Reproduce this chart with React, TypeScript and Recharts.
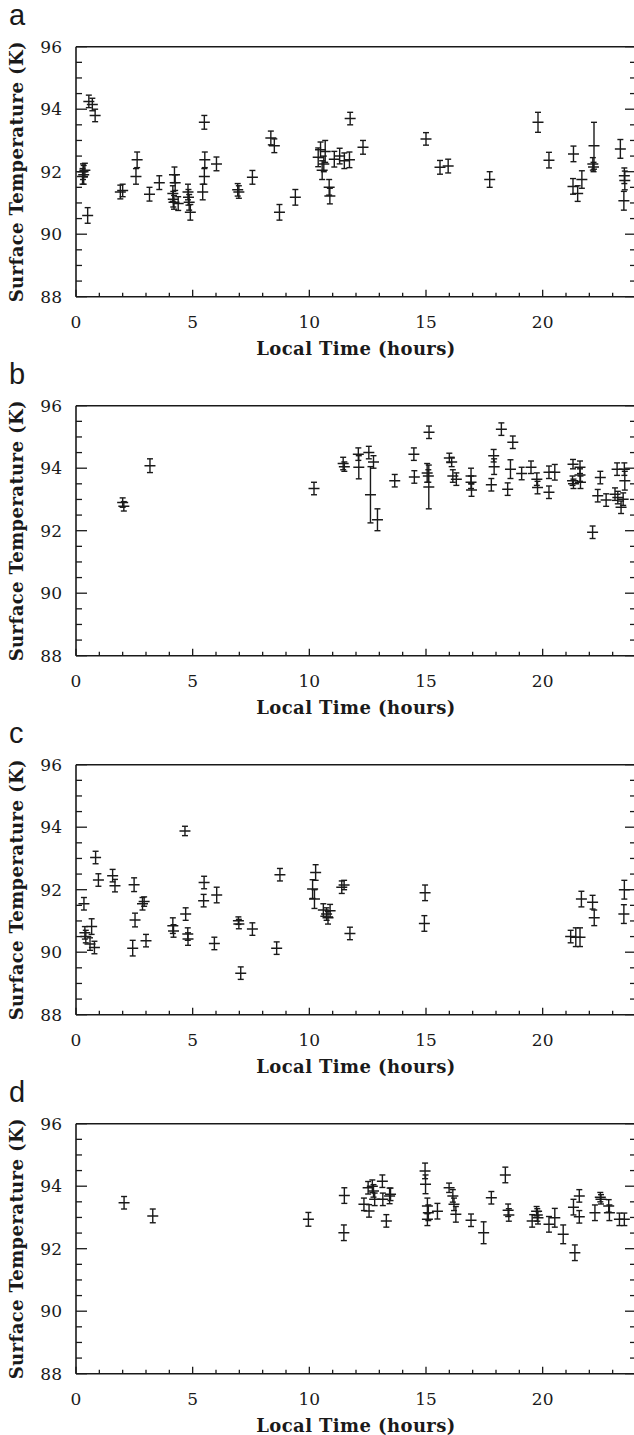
import React from 'react';
import { ScatterChart, Scatter, XAxis, YAxis, ErrorBar, Label } from 'recharts';

// ---------- tick values ----------
const hourTicks = [0, 1, 2, 3, 4, 5, 6, 7, 8, 9, 10, 11, 12, 13, 14, 15, 16, 17, 18, 19, 20, 21, 22, 23, 24];
const tempTicks = [88, 88.5, 89, 89.5, 90, 90.5, 91, 91.5, 92, 92.5, 93, 93.5, 94, 94.5, 95, 95.5, 96];
const hourDomain = [0, 24];
const tempDomain = [88, 96];

// ---------- panel a ----------
const aTime = [0.28, 0.3, 0.33, 0.38, 0.5, 0.55, 0.7, 0.82, 1.9, 2.0, 2.57, 2.62, 3.15, 3.57,
  4.15, 4.17, 4.2, 4.22, 4.25, 4.38, 4.8, 4.82, 4.85, 4.9, 5.43, 5.5, 5.52, 5.5, 6.02, 6.93, 6.98,
  7.56, 8.35, 8.5, 8.72, 9.4, 10.38, 10.48, 10.55, 10.62, 10.68, 10.85, 10.88, 11.07, 11.3, 11.5,
  11.72, 11.75, 12.3, 15.0, 15.6, 15.95, 17.73, 19.8, 20.27, 21.32, 21.3, 21.5, 21.68, 22.2, 22.15,
  22.18, 23.33, 23.5, 23.52, 23.48];
const aTemp = [91.85, 92.0, 91.9, 92.05, 90.6, 94.25, 94.15, 93.8, 91.35, 91.4, 91.85, 92.38, 91.28, 91.65,
  91.3, 91.12, 91.02, 91.9, 91.65, 90.98, 91.35, 91.18, 91.02, 90.7, 91.35, 91.85, 92.38, 93.58, 92.25, 91.42, 91.35,
  91.82, 93.08, 92.83, 90.7, 91.18, 92.46, 92.7, 92.05, 92.25, 92.65, 91.5, 91.22, 92.4, 92.5, 92.35,
  92.38, 93.7, 92.78, 93.05, 92.14, 92.18, 91.75, 93.58, 92.37, 92.57, 91.53, 91.3, 91.75, 92.83, 92.25,
  92.15, 92.73, 91.87, 91.72, 91.07];
const aErr = [0.25, 0.25, 0.3, 0.22, 0.25, 0.2, 0.2, 0.2, 0.22, 0.2, 0.25, 0.25, 0.22, 0.22,
  0.25, 0.25, 0.22, 0.25, 0.25, 0.22, 0.25, 0.25, 0.25, 0.25, 0.25, 0.25, 0.25, 0.22, 0.22, 0.2, 0.2,
  0.22, 0.22, 0.22, 0.25, 0.25, 0.3, 0.25, 0.3, 0.25, 0.35, 0.25, 0.25, 0.25, 0.25, 0.25,
  0.25, 0.2, 0.22, 0.2, 0.22, 0.22, 0.25, 0.32, 0.25, 0.25, 0.25, 0.25, 0.28, 0.75, 0.2,
  0.15, 0.3, 0.25, 0.3, 0.3];

// ---------- panel b ----------
const bTime = [2.0, 2.05, 3.17, 10.2, 11.45, 11.5, 12.1, 12.12, 12.55, 12.62, 12.75, 12.92, 13.66,
  14.48, 14.5, 15.13, 15.05, 15.12, 15.1, 16.0, 16.1, 16.15, 16.3, 16.93, 16.93, 16.95, 17.8, 17.9, 17.92,
  18.23, 18.5, 18.62, 18.72, 19.1, 19.5, 19.75, 19.78, 20.27, 20.27, 20.52, 21.3, 21.28, 21.32, 21.6, 21.6,
  21.62, 22.14, 22.36, 22.47, 22.72, 23.1, 23.19, 23.22, 23.36, 23.45, 23.5, 23.52];
const bTemp = [92.9, 92.78, 94.08, 93.35, 94.15, 94.05, 94.45, 94.03, 94.5, 93.15, 94.2, 92.35, 93.6,
  94.45, 93.72, 95.15, 93.85, 93.4, 93.75, 94.33, 94.2, 93.75, 93.65, 93.75, 93.55, 93.3, 93.47, 94.4, 94.05,
  95.25, 93.33, 93.97, 94.83, 93.83, 94.03, 93.65, 93.38, 93.87, 93.23, 93.87, 94.13, 93.6, 93.5, 94.03, 93.78,
  93.55, 91.95, 93.12, 93.7, 92.98, 93.17, 93.97, 93.06, 92.75, 93.01, 93.97, 93.6];
const bErr = [0.15, 0.15, 0.22, 0.2, 0.2, 0.15, 0.2, 0.37, 0.2, 0.9, 0.2, 0.35, 0.2,
  0.2, 0.2, 0.2, 0.3, 0.7, 0.2, 0.15, 0.15, 0.2, 0.2, 0.25, 0.2, 0.2, 0.2, 0.2, 0.25,
  0.2, 0.2, 0.3, 0.2, 0.2, 0.2, 0.2, 0.2, 0.2, 0.2, 0.25, 0.15, 0.15, 0.15, 0.2, 0.2,
  0.2, 0.2, 0.2, 0.2, 0.2, 0.2, 0.2, 0.2, 0.2, 0.2, 0.2, 0.3];

// ---------- panel c ----------
const cTime = [0.34, 0.38, 0.42, 0.6, 0.67, 0.79, 0.84, 0.96, 1.57, 1.67, 2.43, 2.49, 2.53, 2.85, 2.92, 3.0,
  4.15, 4.18, 4.67, 4.7, 4.79, 4.8, 5.49, 5.47, 6.03, 5.93, 6.96, 6.98, 7.06, 7.56, 8.6, 8.74,
  10.14, 10.27, 10.22, 10.6, 10.74, 10.89, 10.8, 11.39, 11.49, 11.74, 14.96, 14.93,
  21.2, 21.42, 21.6, 21.66, 22.14, 22.21, 23.5, 23.48];
const cTemp = [91.55, 90.62, 90.5, 90.26, 90.82, 90.15, 93.03, 92.31, 92.45, 92.13, 90.13, 92.16, 91.03, 91.55, 91.62, 90.37,
  90.85, 90.68, 93.88, 91.22, 90.58, 90.42, 92.23, 91.65, 91.83, 90.28, 91.01, 90.9, 89.33, 90.74, 90.13, 92.48,
  92.02, 92.55, 91.7, 91.35, 91.22, 91.33, 91.1, 92.08, 92.15, 90.6, 91.9, 90.92,
  90.5, 90.48, 90.48, 91.7, 91.6, 91.1, 92.0, 91.22];
const cErr = [0.2, 0.2, 0.2, 0.2, 0.25, 0.2, 0.2, 0.2, 0.2, 0.2, 0.25, 0.22, 0.22, 0.2, 0.15, 0.2,
  0.25, 0.2, 0.15, 0.2, 0.2, 0.2, 0.2, 0.2, 0.25, 0.2, 0.12, 0.15, 0.2, 0.2, 0.2, 0.2,
  0.3, 0.25, 0.3, 0.2, 0.2, 0.2, 0.2, 0.2, 0.15, 0.2, 0.25, 0.25,
  0.2, 0.3, 0.3, 0.25, 0.22, 0.25, 0.3, 0.3];

// ---------- panel d ----------
const dTime = [2.06, 3.29, 9.96, 11.5, 11.48, 12.34, 12.56, 12.52, 12.7, 12.75, 12.8, 13.13, 13.15, 13.3, 13.44, 13.48,
  14.96, 14.98, 15.06, 15.1, 15.06, 15.49, 15.99, 16.15, 16.2, 16.28, 16.93, 17.47, 17.8, 18.4, 18.52, 18.55,
  19.55, 19.74, 19.77, 19.8, 20.27, 20.52, 20.88, 21.32, 21.38, 21.57, 21.57, 22.24, 22.47, 22.5, 22.86, 22.83,
  23.29, 23.5];
const dTemp = [93.47, 93.05, 92.94, 93.7, 92.51, 93.42, 93.21, 93.95, 94.0, 93.85, 93.58, 94.16, 93.58, 92.89, 93.69, 93.74,
  94.49, 94.06, 93.37, 93.15, 92.94, 93.2, 93.95, 93.69, 93.42, 93.1, 92.91, 92.51, 93.63, 94.36, 93.23, 93.08,
  92.89, 93.2, 93.08, 92.99, 92.78, 92.99, 92.46, 93.33, 91.87, 93.69, 93.02, 93.15, 93.65, 93.58, 93.15, 93.37,
  92.94, 92.94];
const dErr = [0.2, 0.22, 0.22, 0.25, 0.25, 0.2, 0.2, 0.2, 0.2, 0.2, 0.2, 0.2, 0.2, 0.2, 0.25, 0.2,
  0.25, 0.3, 0.25, 0.25, 0.2, 0.25, 0.15, 0.2, 0.2, 0.25, 0.2, 0.35, 0.2, 0.25, 0.2, 0.2,
  0.2, 0.15, 0.2, 0.2, 0.25, 0.3, 0.3, 0.25, 0.25, 0.2, 0.2, 0.25, 0.15, 0.15, 0.25, 0.2,
  0.2, 0.2];

const INK = '#1a1a1a';
const SERIF = '"DejaVu Serif", "Liberation Serif", serif';

const Cross = (props: any) => {
  const { cx, cy } = props;
  if (cx == null || cy == null) return null;
  return <line x1={cx - 5.5} x2={cx + 5.5} y1={cy} y2={cy} stroke={INK} strokeWidth={1.5} />;
};

const BottomTick = (props: any) => {
  const { x, y, payload } = props;
  const v = payload.value;
  const major = v % 5 === 0;
  const len = major ? 7 : 4;
  return (
    <g>
      <line x1={x} x2={x} y1={y} y2={y - len} stroke={INK} strokeWidth={1.3} />
      {major && v <= 20 ? (
        <text x={x} y={y + 31} textAnchor="middle" fontFamily={SERIF} fontSize={17} fill={INK}>
          {v}
        </text>
      ) : null}
    </g>
  );
};

const TopTick = (props: any) => {
  const { x, y, payload } = props;
  const v = payload.value;
  const len = v % 5 === 0 ? 7 : 4;
  return <line x1={x} x2={x} y1={y} y2={y + len} stroke={INK} strokeWidth={1.3} />;
};

const LeftTick = (props: any) => {
  const { x, y, payload } = props;
  const v = payload.value;
  const major = v % 2 === 0;
  const len = major ? 11 : 6;
  return (
    <g>
      <line x1={x} x2={x + len} y1={y} y2={y} stroke={INK} strokeWidth={1.3} />
      {major ? (
        <text x={x - 14} y={y} dy="0.36em" textAnchor="end" fontFamily={SERIF} fontSize={17} fill={INK}>
          {v}
        </text>
      ) : null}
    </g>
  );
};

const RightTick = (props: any) => {
  const { x, y, payload } = props;
  const v = payload.value;
  const len = v % 2 === 0 ? 11 : 6;
  return <line x1={x} x2={x - len} y1={y} y2={y} stroke={INK} strokeWidth={1.3} />;
};

const YTitle = (props: any) => {
  const vb = props.viewBox || {};
  const cx = 17;
  const cy = (vb.y || 0) + (vb.height || 0) / 2;
  return (
    <text
      x={cx}
      y={cy}
      transform={`rotate(-90 ${cx} ${cy})`}
      textAnchor="middle"
      dominantBaseline="central"
      fontFamily={SERIF}
      fontSize={18}
      fontWeight="bold"
      letterSpacing={0.4}
      fill={INK}
    >
      Surface Temperature (K)
    </text>
  );
};

const XTitle = (props: any) => {
  const vb = props.viewBox || {};
  const cx = (vb.x || 0) + (vb.width || 0) / 2;
  const y = (vb.y || 0) + 58;
  return (
    <text
      x={cx}
      y={y}
      textAnchor="middle"
      fontFamily={SERIF}
      fontSize={18}
      fontWeight="bold"
      letterSpacing={0.4}
      fill={INK}
    >
      Local Time (hours)
    </text>
  );
};

type PanelProps = { letter: string; times: number[]; temps: number[]; errs: number[] };

const Panel = ({ letter, times, temps, errs }: PanelProps) => {
  const data = times.map((t, i) => ({ x: t, y: temps[i], err: errs[i] }));
  return (
    <div style={{ position: 'relative', width: 634, height: 359, overflow: 'hidden' }}>
      <div
        style={{
          position: 'absolute',
          left: 9,
          top: 1,
          fontFamily: '"Liberation Sans", Arial, sans-serif',
          fontSize: 29,
          color: INK,
          lineHeight: '29px',
        }}
      >
        {letter}
      </div>
      <ScatterChart width={640} height={359} margin={{ top: 45.7, right: 0, bottom: 0, left: 0 }}>
        <XAxis
          xAxisId="bottom"
          dataKey="x"
          type="number"
          domain={hourDomain}
          ticks={hourTicks}
          interval={0}
          orientation="bottom"
          height={62.3}
          allowDataOverflow
          tickSize={0}
          tickMargin={0}
          tickLine={false}
          axisLine={{ stroke: INK, strokeWidth: 1.6 }}
          tick={<BottomTick />}
        >
          <Label content={<XTitle />} />
        </XAxis>
        <XAxis
          xAxisId="top"
          type="number"
          domain={hourDomain}
          ticks={hourTicks}
          interval={0}
          orientation="top"
          height={1}
          allowDataOverflow
          tickSize={0}
          tickMargin={0}
          tickLine={false}
          axisLine={{ stroke: INK, strokeWidth: 1.6 }}
          tick={<TopTick />}
        />
        <YAxis
          yAxisId="left"
          dataKey="y"
          type="number"
          domain={tempDomain}
          ticks={tempTicks}
          interval={0}
          orientation="left"
          width={76}
          allowDataOverflow
          tickSize={0}
          tickMargin={0}
          tickLine={false}
          axisLine={{ stroke: INK, strokeWidth: 1.6 }}
          tick={<LeftTick />}
        >
          <Label content={<YTitle />} />
        </YAxis>
        <YAxis
          yAxisId="right"
          type="number"
          domain={tempDomain}
          ticks={tempTicks}
          interval={0}
          orientation="right"
          width={4}
          allowDataOverflow
          tickSize={0}
          tickMargin={0}
          tickLine={false}
          axisLine={{ stroke: INK, strokeWidth: 1.6 }}
          tick={<RightTick />}
        />
        <Scatter
          xAxisId="bottom"
          yAxisId="left"
          data={data}
          dataKey="y"
          isAnimationActive={false}
          shape={<Cross />}
        >
          <ErrorBar dataKey="err" direction="y" width={3} stroke={INK} strokeWidth={1.4} isAnimationActive={false} />
        </Scatter>
      </ScatterChart>
    </div>
  );
};

export default function App() {
  return (
    <div
      style={{
        position: 'absolute',
        left: 0,
        top: 0,
        width: 634,
        height: 1435,
        overflow: 'hidden',
        background: '#fff',
      }}
    >
      <Panel letter="a" times={aTime} temps={aTemp} errs={aErr} />
      <Panel letter="b" times={bTime} temps={bTemp} errs={bErr} />
      <Panel letter="c" times={cTime} temps={cTemp} errs={cErr} />
      <Panel letter="d" times={dTime} temps={dTemp} errs={dErr} />
    </div>
  );
}
